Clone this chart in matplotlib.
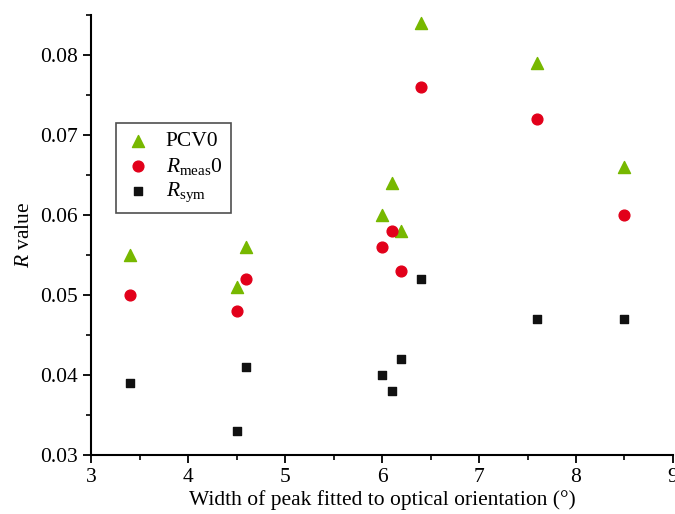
import numpy as np
import matplotlib.pyplot as plt
from matplotlib.ticker import MultipleLocator

plt.rcParams['font.family'] = ['Liberation Serif', 'DejaVu Serif']
plt.rcParams['mathtext.fontset'] = 'custom'
plt.rcParams['mathtext.rm'] = 'Liberation Serif'
plt.rcParams['mathtext.it'] = 'Liberation Serif:italic'

width = [3.4, 4.5, 4.6, 6.0, 6.1, 6.2, 6.4, 7.6, 8.5]
pcv0 = [0.055, 0.051, 0.056, 0.060, 0.064, 0.058, 0.084, 0.079, 0.066]
rmeas0 = [0.050, 0.048, 0.052, 0.056, 0.058, 0.053, 0.076, 0.072, 0.060]
rsym = [0.039, 0.033, 0.041, 0.040, 0.038, 0.042, 0.052, 0.047, 0.047]

fig = plt.figure(figsize=(6.75, 5.14), dpi=100)
ax = fig.add_axes([0.135, 0.115, 0.862, 0.856])

ax.scatter(width, pcv0, marker='^', s=75, color='#77b800', label='PCV0', zorder=3)
ax.scatter(width, rmeas0, marker='o', s=60, color='#e2001a', label=r'$R_{\mathrm{meas}}$0', zorder=3)
ax.scatter(width, rsym, marker='s', s=40, color='#111111', label=r'$R_{\mathrm{sym}}$', zorder=3)

ax.set_xlim(3, 9)
ax.set_ylim(0.03, 0.085)
ax.xaxis.set_major_locator(MultipleLocator(1))
ax.xaxis.set_minor_locator(MultipleLocator(0.5))
ax.yaxis.set_minor_locator(MultipleLocator(0.005))
ax.set_yticks([0.03, 0.04, 0.05, 0.06, 0.07, 0.08])
ax.set_yticklabels(['0.03', '0.04', '0.05', '0.06', '0.07', '0.08'])

for s in ['top', 'right']:
    ax.spines[s].set_visible(False)
for s in ['left', 'bottom']:
    ax.spines[s].set_linewidth(1.5)
ax.tick_params(which='major', direction='out', length=6, width=1.3, labelsize=15.5)
ax.tick_params(which='minor', direction='out', length=3.5, width=1.2)

ax.set_xlabel('Width of peak fitted to optical orientation (°)', fontsize=15.5, labelpad=2)
ax.set_ylabel(r'$R$ value', fontsize=15.5, labelpad=4)

leg = ax.legend(loc='upper left', bbox_to_anchor=(0.043, 0.755), borderaxespad=0,
                fontsize=15.5, frameon=True, fancybox=False, edgecolor='#222222',
                handlelength=1.2, handletextpad=0.7, borderpad=0.4,
                labelspacing=0.2, scatterpoints=1)
leg.get_frame().set_linewidth(1.2)

fig.savefig('out.png', dpi=100)
